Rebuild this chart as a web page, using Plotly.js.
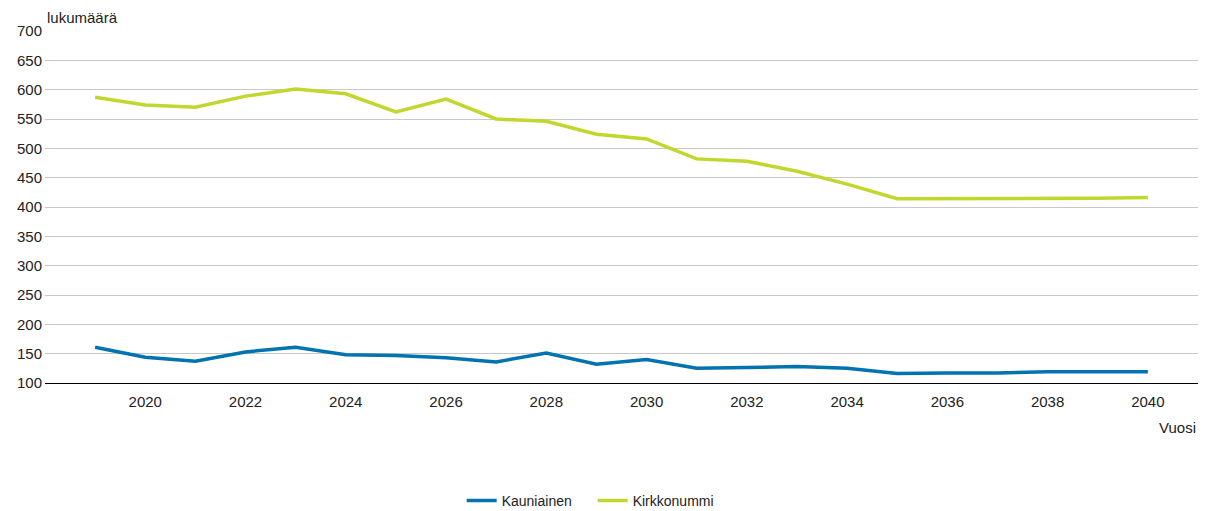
<!DOCTYPE html>
<html>
<head>
<meta charset="utf-8">
<script src="https://cdn.plot.ly/plotly-3.0.1.min.js"></script>
<style>html,body{margin:0;padding:0;background:#fff;}#chart{width:1206px;height:511px;}</style>
</head>
<body>
<div id="chart"></div>
<script>
const years = [2019,2020,2021,2022,2023,2024,2025,2026,2027,2028,2029,2030,2031,2032,2033,2034,2035,2036,2037,2038,2039,2040];
const kauniainen = [161,144,137,153,161,148,147,143,136,151,132,140,125,126,128,125,116,117,117,119,119,119];
const kirkkonummi = [587,574,570,589,601,593,562,584,550,546,524,516,482,478,461,439,414,414,415,415,415,416];
const xTicks = [2020,2022,2024,2026,2028,2030,2032,2034,2036,2038,2040];
const yTicks = [100,150,200,250,300,350,400,450,500,550,600,650,700];

const font = {family: 'Liberation Sans, Arial, sans-serif', size: 15, color: '#222'};

const traces = [
  {x: years, y: kauniainen, name: 'Kauniainen', type: 'scatter', mode: 'lines',
   line: {color: '#0073b0', width: 3.5}},
  {x: years, y: kirkkonummi, name: 'Kirkkonummi', type: 'scatter', mode: 'lines',
   line: {color: '#c1d72e', width: 3.5}}
];

const layout = {
  width: 1206, height: 511,
  margin: {l: 45, r: 8, t: 31, b: 128, autoexpand: false},
  paper_bgcolor: '#fff', plot_bgcolor: '#fff',
  font: font,
  showlegend: true,
  legend: {orientation: 'h', x: 0.475, xanchor: 'center', yref: 'container', y: 0.02, yanchor: 'middle',
           entrywidth: 86, entrywidthmode: 'pixels',
           font: {family: font.family, size: 14, color: '#222'}},
  xaxis: {range: [2018, 2041], tickvals: xTicks, ticktext: xTicks.map(String), automargin: false,
          showgrid: false, zeroline: false, showline: true, linecolor: '#000', linewidth: 1,
          ticks: '', ticklabelstandoff: 5, tickfont: {family: font.family, size: 15, color: '#222'}},
  yaxis: {range: [100, 700], tickvals: yTicks, ticktext: yTicks.map(String), automargin: false,
          showgrid: true, gridcolor: '#c8c8c8', gridwidth: 1, zeroline: false, showline: false,
          ticks: '', ticklen: 0, ticklabelstandoff: 2, tickfont: {family: font.family, size: 15, color: '#222'}},
  annotations: [
    {text: 'lukumäärä', xref: 'paper', yref: 'paper', x: 0, y: 1, xanchor: 'left', yanchor: 'bottom',
     yshift: 3, showarrow: false, font: {family: font.family, size: 15, color: '#222'}},
    {text: 'Vuosi', xref: 'paper', yref: 'paper', x: 1, y: 0, xanchor: 'right', yanchor: 'top',
     yshift: -34, showarrow: false, font: {family: font.family, size: 15, color: '#222'}}
  ]
};

Plotly.newPlot('chart', traces, layout, {displayModeBar: false, staticPlot: true});
</script>
</body>
</html>
